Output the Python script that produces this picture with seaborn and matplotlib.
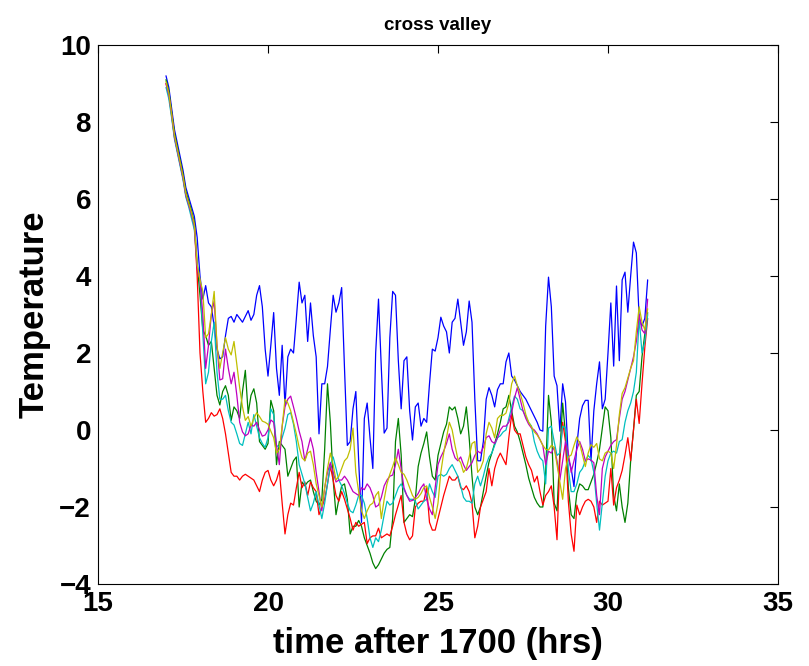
import numpy as np
import pandas as pd
import matplotlib
matplotlib.use("Agg")
import matplotlib.pyplot as plt
import seaborn as sns

# time grid: 5-minute samples starting at 17.0 h
time_hrs = 17 + np.arange(171) / 12.0

blue = [9.2, 8.9, 8.35, 7.8, 7.45, 7.1, 6.75, 6.3, 6.05, 5.8,
        5.55, 5.0, 4.0, 3.4, 3.75, 3.3, 3.2, 2.7, 2.1, 1.85,
        1.9, 2.45, 2.9, 2.95, 2.8, 3.0, 2.9, 2.8, 2.95, 3.1,
        2.85, 3.0, 3.5, 3.75, 3.2, 2.1, 1.4, 2.2, 3.05, 1.6,
        0.9, 2.2, 0.63, 1.9, 2.1, 2.0, 2.9, 3.84, 3.3, 3.5,
        2.3, 3.3, 2.45, 1.9, -0.1, 1.2, 1.2, 1.65, 2.6, 3.5,
        3.06, 3.3, 3.7, 1.6, -0.4, -0.3, 0.55, 1.0, -0.8, -2.4,
        0.3, 0.7, -0.2, -1.0, 2.0, 3.4, 1.6, -0.08, 0.05, 2.4,
        3.6, 3.5, 1.8, 0.55, 1.8, 1.9, 0.5, -0.26, 0.6, 0.7,
        0.1, 0.3, 0.2, 1.2, 2.1, 2.05, 2.4, 2.93, 2.7, 2.55,
        2.0, 2.8, 2.9, 3.4, 2.8, 2.2, 2.55, 3.35, 2.8, 0.8,
        -0.8, -0.8, -0.3, 0.8, 1.1, 0.9, 0.6, 1.05, 1.2, 1.2,
        1.77, 2.0, 1.4, 1.3, 1.15, 1.0, 0.9, 0.8, 0.65, 0.5,
        0.35, 0.2, 0.0, -0.03, 2.7, 3.97, 3.2, 1.4, 1.15, -0.03,
        1.2, 0.73, -0.74, -1.0, -1.47, -0.4, 0.3, 0.63, 0.77, 0.77,
        -0.8, 0.5, 1.2, 1.77, 0.55, 0.8, 2.0, 3.3, 1.66, 3.74,
        1.8, 3.9, 4.1, 3.06, 4.0, 4.88, 4.6, 2.9, 2.7, 2.9,
        3.9]

green = [9.1, 8.8, 8.25, 7.7, 7.35, 7.0, 6.65, 6.2, 5.95, 5.7,
         5.4, 4.3, 3.5, 2.6, 2.45, 2.2, 2.3, 1.6, 0.9, 0.65,
         1.0, 1.15, 0.9, 0.25, 0.6, 0.5, 0.3, 1.0, 1.55, 0.43,
         0.9, 1.07, 0.7, -0.3, -0.4, -0.5, -0.35, 0.77, 0.5, -0.9,
         -0.3, -0.4, -0.5, -1.2, -1.0, -0.8, -0.7, -2.0, -1.35, -1.45,
         -1.35, -1.3, -1.6, -1.85, -1.95, -1.8, -0.5, 1.2, 0.2, -1.3,
         -2.2, -1.8, -1.45, -1.4, -1.8, -2.7, -2.5, -2.5, -2.35, -2.5,
         -2.8, -3.0, -3.2, -3.45, -3.6, -3.5, -3.35, -3.2, -3.1, -3.05,
         -2.3, -0.3, 0.3, -0.65, -2.4, -2.3, -2.2, -2.25, -1.8, -0.95,
         -0.6, -0.35, -0.05, -0.7, -1.2, -1.3, -0.66, -0.35, -0.05, 0.15,
         0.6, 0.52, 0.6, 0.3, -0.1, 0.1, 0.6, -0.2, -1.2, -2.0,
         -2.2, -2.0, -1.6, -1.2, -0.83, -0.6, -0.35, -0.1, 0.2, 0.55,
         0.6, 0.9, 0.5, 0.1, -0.05, -0.3, -0.6, -0.9, -1.25, -1.5,
         -1.75, -1.9, -2.0, -2.0, -1.1, 0.9, 0.2, -1.9, -2.1, -0.6,
         0.7, -0.1, -1.5, -2.2, -2.3, -1.65, -1.4, -1.45, -1.55, -1.55,
         -1.35, -1.15, -0.85, -0.5, 0.05, 0.6, 0.5, -0.2, -1.7, -2.1,
         -1.4, -2.0, -2.4, -1.9, -0.8, 0.0, 0.9, 1.0, 1.9, 2.5,
         3.05]

red = [9.0, 8.7, 8.15, 7.6, 7.25, 6.9, 6.55, 6.1, 5.85, 5.6,
       5.3, 4.0, 2.0, 1.0, 0.2, 0.3, 0.45, 0.36, 0.4, 0.55,
       0.3, -0.1, -0.6, -1.1, -1.2, -1.2, -1.3, -1.2, -1.15, -1.2,
       -1.25, -1.3, -1.45, -1.6, -1.3, -1.1, -1.05, -1.3, -1.45, -1.3,
       -1.05, -1.9, -2.7, -2.2, -1.9, -1.95, -1.5, -1.1, -1.5, -1.35,
       -1.7, -1.35, -1.5, -1.6, -2.2, -2.0, -1.8, -1.4, -0.95, -1.3,
       -1.7, -1.85, -1.6, -1.8, -2.05, -2.3, -2.6, -2.4, -2.5, -2.45,
       -2.4, -2.95, -2.8, -2.75, -2.75, -2.55, -2.8, -2.75, -2.7, -2.75,
       -2.5, -2.2, -1.95, -1.7, -2.4, -2.7, -2.85, -2.75, -2.0, -1.9,
       -1.85, -1.85, -1.5, -2.4, -2.6, -2.6, -2.3, -2.0, -1.7, -1.45,
       -1.2, -1.3, -1.3, -1.2, -1.5, -1.55, -1.45, -1.6, -1.9, -2.8,
       -2.5, -2.0, -1.8, -1.6, -1.0, -1.45, -1.0, -0.75, -0.6, -0.75,
       -0.9, -0.2, 0.4, 0.0, -0.1, -0.1, -0.4, -0.7, -0.9, -1.05,
       -1.35, -1.2, -1.6, -1.95, -1.7, -1.6, -1.45, -2.0, -2.85, -0.8,
       0.2, -0.3, -1.85, -2.7, -3.15, -1.95, -2.2, -2.0, -1.85, -1.8,
       -1.85, -2.0, -2.4, -1.85, -1.95, -1.9, -1.85, -1.0, -1.95, -1.5,
       -1.3, -1.05, -0.65, -0.2, -0.8, 0.0, 0.8, 0.17, 1.2, 2.15,
       2.9]

cyan = [8.9, 8.6, 8.1, 7.55, 7.2, 6.85, 6.5, 6.05, 5.8, 5.5,
        5.2, 4.3, 3.9, 2.5, 1.2, 1.5, 2.3, 2.8, 1.5, 0.8,
        0.8, 0.9, 0.5, 0.2, 0.13, -0.1, -0.35, -0.4, -0.1, 0.2,
        -0.1, 0.4, 0.1, -0.2, -0.35, -0.45, -0.2, 0.55, 0.4, -0.4,
        -0.45, -0.2, 0.05, 0.4, 0.45, 0.15, -0.3, -0.9, -1.15, -1.4,
        -1.75, -2.1, -1.9, -1.6, -1.95, -2.3, -1.9, -1.4, -0.9, -0.7,
        -1.0, -1.3, -1.45, -1.65, -1.9, -2.1, -2.15, -1.95, -1.7, -1.7,
        -1.9, -2.3, -2.8, -3.05, -2.8, -2.9, -2.6, -2.2, -1.85, -1.95,
        -1.9, -1.7, -1.5, -1.4, -1.55, -1.7, -1.8, -1.8, -1.85, -2.05,
        -1.95, -1.85, -1.8, -1.4, -1.6, -1.75, -1.2, -1.15, -1.2, -1.15,
        -1.0, -0.9, -1.05, -1.2, -1.45, -1.75, -1.85, -1.85, -1.9, -1.4,
        -1.2, -1.45, -1.2, -0.9, -0.7, -0.6, -0.4, -0.2, -0.15, -0.05,
        0.0, 0.3, 0.6, 0.88, 0.8, 0.55, 0.5, 0.35, 0.2, 0.1,
        -0.3, -0.55, -0.72, -0.8, -1.4, 0.05, 0.1, -0.3, -0.66, -0.6,
        0.1, 0.05, -1.0, -1.6, -1.6, -1.4, -1.1, -1.0, -0.8, -0.66,
        -0.75, -1.1, -1.9, -2.6, -1.9, -1.2, -0.8, -0.6, -0.55, -0.6,
        -0.3, -0.25, 0.2, 0.5, 0.7, 1.0, 1.5, 2.9, 2.0, 2.3,
        3.0]

magenta = [9.0, 8.7, 8.2, 7.6, 7.25, 6.9, 6.55, 6.1, 5.85, 5.6,
           5.3, 4.2, 3.9, 3.0, 1.6, 2.2, 3.0, 3.35, 2.2, 1.3,
           1.33, 2.1, 1.6, 1.2, 1.5, 0.9, 0.2, -0.05, -0.15, -0.1,
           0.13, 0.1, 0.2, 0.0, -0.16, -0.13, 0.0, 0.26, 0.2, -0.4,
           -0.9, 0.1, 0.6, 0.8, 0.88, 0.6, 0.3, -0.03, -0.3, -0.8,
           -0.5, -0.2, -0.5, -1.1, -1.6, -2.1, -1.5, -1.1, -0.85, -1.1,
           -1.35, -1.3, -1.3, -1.2, -1.3, -1.45, -1.6, -1.65, -1.7, -1.5,
           -1.55, -1.4, -1.5, -1.7, -2.0, -1.95, -1.75, -1.45, -1.3, -1.2,
           -1.17, -0.9, -0.5, -1.0, -1.5, -1.7, -1.85, -1.83, -1.75, -1.65,
           -1.5, -1.4, -1.8, -2.05, -2.2, -1.5, -0.9, -0.7, -0.55, -0.35,
           -0.1, -0.5, -0.72, -0.8, -0.7, -0.9, -1.05, -0.95, -0.85, -0.66,
           -0.55, -0.6, -0.45, -0.2, -0.15, -0.3, -0.35, -0.2, 0.0, 0.1,
           0.1, 0.2, 0.45, 0.83, 1.1, 0.8, 0.5, 0.3, 0.15, 0.05,
           0.0, -0.1, -0.25, -0.4, -0.9, -0.55, -0.6, -0.45, -0.8, -1.3,
           -0.8, -0.3, -0.6, -1.1, -0.8, -0.5, -0.3, -0.5, -0.8, -0.75,
           -0.78, -0.85, -1.7, -2.2, -1.0, -0.7, -0.55, -0.4, -0.3, -0.25,
           0.3, 0.8, 1.0, 1.3, 1.6, 1.9, 2.3, 3.0, 2.6, 2.5,
           3.4]

yellow = [9.05, 8.75, 8.2, 7.65, 7.3, 6.95, 6.6, 6.15, 5.9, 5.65,
          5.35, 4.3, 3.9, 3.6, 2.4, 2.5, 3.0, 3.6, 2.2, 1.6,
          2.0, 2.4, 2.1, 1.95, 2.3, 1.7, 1.1, 0.6, 0.25, 0.35,
          0.1, 0.3, 0.45, 0.35, 0.23, 0.2, 0.15, -0.03, -0.2, -0.6,
          -0.5, 0.1, 0.8, 0.7, 0.5, 0.2, -0.1, -0.45, -0.72, -0.8,
          -0.6, -0.55, -0.9, -1.4, -1.7, -2.0, -1.5, -1.0, -0.6, -0.9,
          -1.3, -1.2, -1.0, -0.8, -0.72, -0.5, 0.05, -1.1, -1.6, -2.1,
          -2.3, -2.1, -1.95, -1.9, -1.7, -1.6, -2.3, -1.8, -1.4, -1.15,
          -0.95, -0.72, -0.9, -1.1, -1.15, -1.3, -1.5, -1.7, -1.8, -1.75,
          -1.65, -1.5, -1.45, -1.75, -2.0, -2.3, -1.9, -1.1, -0.6, -0.2,
          0.2, 0.0, -0.4, -0.75, -0.85, -1.1, -1.0, -0.7, -0.35, -0.3,
          -1.1, -1.0, -0.8, -0.1, 0.2, 0.05, -0.2, 0.3, 0.38, 0.38,
          0.44, 0.7, 1.2, 1.4, 1.15, 0.95, 0.7, 0.4, 0.2, 0.08,
          -0.05, -0.13, -0.25, -0.4, -0.5, -0.52, -0.4, -0.45, -0.9, -1.35,
          -1.8, -1.0, -0.7, -0.65, -0.4, -0.18, -0.35, -0.65, -0.95, -0.6,
          -0.38, -0.45, -0.35, -0.75, -0.8, -0.6, -0.55, -0.6, -1.0, -0.4,
          0.4, 0.95, 1.1, 1.35, 1.6, 1.8, 2.55, 3.2, 2.8, 2.6,
          3.15]

series_names = ["b", "g", "r", "c", "m", "y"]
series_values = [blue, green, red, cyan, magenta, yellow]
line_colors = {"b": (0, 0, 1), "g": (0, 0.5, 0), "r": (1, 0, 0),
               "c": (0, 0.75, 0.75), "m": (0.75, 0, 0.75), "y": (0.75, 0.75, 0)}

x_ticks = [15, 20, 25, 30, 35]
y_ticks = [-4, -2, 0, 2, 4, 6, 8, 10]

frames = []
for name, vals in zip(series_names, series_values):
    frames.append(pd.DataFrame({"time": time_hrs, "temp": vals, "series": name}))
df = pd.concat(frames, ignore_index=True)

sns.set_style("white")
plt.rcParams["font.family"] = ["Liberation Sans", "DejaVu Sans"]
plt.rcParams["font.weight"] = "bold"
plt.rcParams["text.color"] = "black"
plt.rcParams["axes.labelcolor"] = "black"
plt.rcParams["xtick.color"] = "black"
plt.rcParams["ytick.color"] = "black"

fig = plt.figure(figsize=(8.09, 6.66), dpi=100)
ax = fig.add_axes([98 / 809, 82 / 666, 680 / 809, 539 / 666])

sns.lineplot(data=df, x="time", y="temp", hue="series", hue_order=series_names,
             palette=line_colors, estimator=None, sort=False, linewidth=0.9,
             legend=False, ax=ax)

ax.set_xlim(15, 35)
ax.set_ylim(-4, 10)
ax.set_xticks(x_ticks)
ax.set_yticks(y_ticks)
ax.set_xticklabels([str(v) for v in x_ticks])
ax.set_yticklabels([str(v).replace("-", "\u2212") for v in y_ticks])
ax.tick_params(direction="in", length=6, width=0.8, top=True, right=True,
               labelsize=20, pad=5, colors="black")
for lbl in ax.get_xticklabels() + ax.get_yticklabels():
    lbl.set_fontweight("bold")
for sp in ax.spines.values():
    sp.set_visible(True)
    sp.set_color("black")
    sp.set_linewidth(0.8)

ax.set_xlabel("time after 1700 (hrs)", fontsize=25, fontweight="bold",
              labelpad=7, color="black")
ax.set_ylabel("Temperature", fontsize=25, fontweight="bold",
              labelpad=6, color="black")
ax.set_title("cross valley", fontsize=13.5, fontweight="bold", pad=11,
             color="black")

fig.savefig("out.png", dpi=100)
